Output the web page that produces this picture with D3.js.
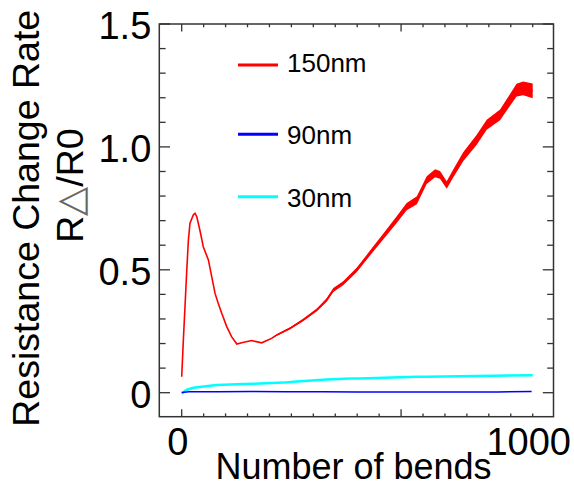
<!DOCTYPE html>
<html>
<head>
<meta charset="utf-8">
<script src="https://cdn.jsdelivr.net/npm/d3@7"></script>
<style>
  body { margin: 0; background: white; }
  text { font-family: "Liberation Sans", Arial, sans-serif; fill: black; }
</style>
</head>
<body>
<div id="chart"></div>
<script>
// Data
var redX = [0, 4.7, 9.4, 14, 19, 23.6, 33, 38, 43, 52, 61.5, 76, 85.5, 95, 104, 114, 128, 142, 157, 171,
  199, 228, 256, 271, 309, 346, 385, 413, 432, 460, 499, 536, 574, 612, 641, 670, 698, 722, 736, 755,
  774, 802, 840, 869, 907, 935, 954, 973, 1000];
var redY = [0.065, 0.214, 0.35, 0.486, 0.62, 0.69, 0.723, 0.73, 0.716, 0.66, 0.594, 0.54, 0.472, 0.404, 0.364, 0.323, 0.27, 0.228, 0.198, 0.203,
  0.212, 0.203, 0.221, 0.235, 0.262, 0.296, 0.337, 0.377, 0.418, 0.445, 0.5, 0.567, 0.635, 0.703, 0.757, 0.783, 0.865, 0.893, 0.886, 0.845,
  0.893, 0.96, 1.028, 1.09, 1.13, 1.19, 1.231, 1.238, 1.228];
// half width of the noisy band around the red curve
var redSpread = [0, 0, 0, 0, 0, 0, 0, 0, 0, 0, 0, 0, 0, 0, 0, 0, 0, 0, 0, 0,
  0, 0, 0.002, 0.003, 0.004, 0.005, 0.006, 0.007, 0.008, 0.008, 0.009, 0.01, 0.012, 0.014, 0.015, 0.016, 0.016, 0.016, 0.016, 0.015,
  0.016, 0.018, 0.02, 0.02, 0.022, 0.024, 0.026, 0.028, 0.03];

var cyanX = [0, 14, 33, 81, 100, 176, 290, 318, 413, 480, 508, 670, 698, 888, 1000];
var cyanY = [-0.003, 0.011, 0.02, 0.028, 0.031, 0.035, 0.041, 0.045, 0.054, 0.058, 0.058, 0.065, 0.065, 0.069, 0.071];

var blueX = [0, 20, 100, 200, 300, 400, 500, 600, 700, 800, 900, 997];
var blueY = [0.001, 0.004, 0.004, 0.005, 0.004, 0.004, 0.003, 0.003, 0.003, 0.003, 0.003, 0.005];

var seriesNames = ["150nm", "90nm", "30nm"];
var seriesColors = ["#ff0000", "#0000ff", "#00ffff"];

var yTickLabels = ["0", "0.5", "1.0", "1.5"];
var yMajorTicks = [0, 0.5, 1.0, 1.5];
var xTickLabels = ["0", "1000"];
var xLabelTicks = [0, 1000];

// SVG area
var svgWidth = 574;
var svgHeight = 488;

var frame = { left: 159.3, right: 553.5, top: 24, bottom: 416.7 };

var svg = d3.select("#chart")
  .append("svg")
  .attr("width", svgWidth)
  .attr("height", svgHeight);

svg.append("rect")
  .attr("width", svgWidth)
  .attr("height", svgHeight)
  .attr("fill", "white");

// Scales
var xScale = d3.scaleLinear()
  .domain([0, 1000])
  .range([181.7, 532.7]);

var yScale = d3.scaleLinear()
  .domain([0, 1.5])
  .range([392.7, 24]);

// Tick positions
var xMinorTicks = d3.range(0, 1000.1, 62.5);
var xMajorTicks = [0, 625];
var yMinorTicks = d3.range(0, 1.51, 0.1).map(d => Math.round(d * 10) / 10);

var tickColor = "#333";

// Left and right axes (ticks inside the frame)
function drawYTicks(x, dir) {
  var g = svg.append("g");
  g.selectAll("line")
    .data(yMinorTicks)
    .enter()
    .append("line")
    .attr("x1", x)
    .attr("x2", d => x + dir * (yMajorTicks.indexOf(d) >= 0 ? 10.7 : 6.3))
    .attr("y1", d => yScale(d))
    .attr("y2", d => yScale(d))
    .attr("stroke", tickColor)
    .attr("stroke-width", 1.3);
}
drawYTicks(frame.left, 1);
drawYTicks(frame.right, -1);

// Bottom and top axes
function drawXTicks(y, dir) {
  var g = svg.append("g");
  g.selectAll("line")
    .data(xMinorTicks)
    .enter()
    .append("line")
    .attr("x1", d => xScale(d))
    .attr("x2", d => xScale(d))
    .attr("y1", y)
    .attr("y2", d => y + dir * (xMajorTicks.indexOf(d) >= 0 ? 7.5 : 3.3))
    .attr("stroke", tickColor)
    .attr("stroke-width", 1.3);
}
drawXTicks(frame.bottom, -1);
drawXTicks(frame.top, 1);

// Frame
svg.append("rect")
  .attr("x", frame.left)
  .attr("y", frame.top)
  .attr("width", frame.right - frame.left)
  .attr("height", frame.bottom - frame.top)
  .attr("fill", "none")
  .attr("stroke", tickColor)
  .attr("stroke-width", 1.5);

// Y tick labels
svg.append("g")
  .selectAll("text")
  .data(yMajorTicks)
  .enter()
  .append("text")
  .attr("x", frame.left - 8)
  .attr("y", d => yScale(d))
  .attr("dy", "0.4em")
  .attr("text-anchor", "end")
  .style("font-size", "38px")
  .text((d, i) => yTickLabels[i]);

// X tick labels
svg.append("g")
  .selectAll("text")
  .data(xLabelTicks)
  .enter()
  .append("text")
  .attr("x", d => xScale(d) - 4)
  .attr("y", 455)
  .attr("text-anchor", "middle")
  .style("font-size", "38px")
  .text((d, i) => xTickLabels[i]);

// Red curve: noisy band plus line
var redData = redX.map((d, i) => ({ x: d, y: redY[i], s: redSpread[i] }));

svg.append("path")
  .datum(redData)
  .attr("d", d3.area()
    .x(d => xScale(d.x))
    .y0(d => yScale(d.y - d.s))
    .y1(d => yScale(d.y + d.s)))
  .attr("fill", seriesColors[0]);

svg.append("path")
  .datum(redData)
  .attr("d", d3.line().x(d => xScale(d.x)).y(d => yScale(d.y)))
  .attr("fill", "none")
  .attr("stroke", seriesColors[0])
  .attr("stroke-width", 1.6);

// Cyan curve
var cyanData = cyanX.map((d, i) => ({ x: d, y: cyanY[i] }));
svg.append("path")
  .datum(cyanData)
  .attr("d", d3.line().x(d => xScale(d.x)).y(d => yScale(d.y)))
  .attr("fill", "none")
  .attr("stroke", seriesColors[2])
  .attr("stroke-width", 2.5);

// Blue curve
var blueData = blueX.map((d, i) => ({ x: d, y: blueY[i] }));
svg.append("path")
  .datum(blueData)
  .attr("d", d3.line().x(d => xScale(d.x)).y(d => yScale(d.y)))
  .attr("fill", "none")
  .attr("stroke", seriesColors[1])
  .attr("stroke-width", 1.6);

// Legend
var legendLineY = [65, 134.3, 196.7];
var legendTextY = [72, 144, 207];
var legend = svg.append("g");
legend.selectAll("line")
  .data(seriesNames)
  .enter()
  .append("line")
  .attr("x1", 238)
  .attr("x2", 278)
  .attr("y1", (d, i) => legendLineY[i])
  .attr("y2", (d, i) => legendLineY[i])
  .attr("stroke", (d, i) => seriesColors[i])
  .attr("stroke-width", 3);
legend.selectAll("text")
  .data(seriesNames)
  .enter()
  .append("text")
  .attr("x", 287)
  .attr("y", (d, i) => legendTextY[i])
  .style("font-size", "26px")
  .text(d => d);

// Axis titles
svg.append("text")
  .attr("transform", "translate(39.3, 218.3) rotate(-90)")
  .attr("text-anchor", "middle")
  .style("font-size", "37.5px")
  .text("Resistance Change Rate");

var rTitle = svg.append("text")
  .attr("transform", "translate(82.7, 185.5) rotate(-90)")
  .attr("text-anchor", "middle")
  .style("font-size", "37.5px");
rTitle.append("tspan").text("R");
rTitle.append("tspan")
  .style("fill", "#666")
  .style("font-family", "DejaVu Sans")
  .style("font-weight", "200")
  .text("△");
rTitle.append("tspan").text("/R0");

svg.append("text")
  .attr("x", 353.5)
  .attr("y", 479)
  .attr("text-anchor", "middle")
  .style("font-size", "36px")
  .text("Number of bends");
</script>
</body>
</html>
